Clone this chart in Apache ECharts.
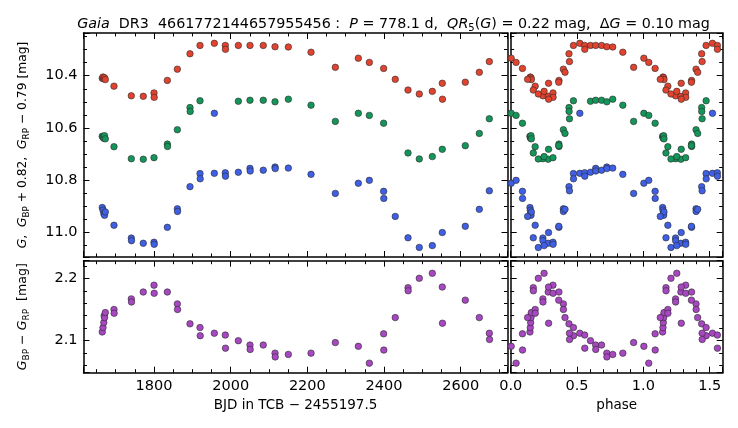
<!DOCTYPE html>
<html><head><meta charset="utf-8">
<script src="https://cdn.jsdelivr.net/npm/echarts@6/dist/echarts.min.js"></script>
<style>html,body{margin:0;padding:0;background:#fff}#c{width:738px;height:428px}</style>
</head><body><div id="c"></div>
<script>
// ---- data ----
const PERIOD = 778.1;      // days
const T0 = 1552.0;         // phase zero epoch (BJD-2455197.5)
const timeTicks = [1800, 2000, 2200, 2400, 2600];
const magTicks = [10.4, 10.6, 10.8, 11.0];
const colorTicks = [2.1, 2.2];
const phaseTicks = [0.0, 0.5, 1.0, 1.5];

// G_RP - 0.79 (red)
const rpData = [
 [1665,10.410],[1667,10.405],[1669,10.412],[1671,10.408],[1673,10.415],
 [1695.6,10.440],[1740.8,10.477],[1772,10.479],[1800,10.466],[1800.5,10.483],
 [1834.8,10.418],[1860.9,10.375],[1893.9,10.316],[1920,10.284],[1957.4,10.276],
 [1986,10.284],[1986.5,10.299],[2020,10.284],[2050.4,10.284],[2085,10.284],
 [2115.7,10.289],[2150.4,10.290],[2209.6,10.310],[2273,10.368],[2333,10.333],
 [2361.7,10.349],[2399,10.372],[2429.3,10.414],[2462.6,10.455],[2492,10.470],
 [2526,10.460],[2552,10.429],[2552.5,10.490],[2612,10.425],[2648.6,10.387],
 [2674.7,10.346]
];
// G (green)
const gData = [
 [1665,10.632],[1667,10.636],[1669,10.640],[1671,10.630],[1673,10.642],
 [1695.6,10.672],[1740.8,10.718],[1772,10.720],[1800,10.714],[1834.8,10.662],
 [1835.3,10.671],[1860.9,10.607],[1893.9,10.522],[1894.4,10.537],[1920,10.496],
 [2020,10.498],[2050.4,10.494],[2085,10.494],[2115.7,10.500],[2150.4,10.490],
 [2209.6,10.513],[2273,10.575],[2333,10.544],[2361.7,10.552],[2399,10.582],
 [2462.6,10.696],[2492,10.719],[2526,10.710],[2552,10.682],[2612,10.668],
 [2648.6,10.621],[2674.7,10.565]
];
// G_BP + 0.82 (blue)
const bpData = [
 [1665,10.905],[1667,10.915],[1669,10.928],[1671,10.935],[1673,10.922],
 [1695.6,10.973],[1740.8,11.022],[1741.3,11.032],[1772,11.042],[1800,11.038],
 [1800.5,11.046],[1834.8,10.981],[1860.9,10.910],[1861.4,10.920],[1893.9,10.825],
 [1920,10.775],[1920.5,10.795],[1957.4,10.774],[1957.4,10.544],[1986,10.772],
 [1986.5,10.785],[2020,10.770],[2050.4,10.755],[2050.9,10.765],[2085,10.762],
 [2115.7,10.750],[2116.2,10.756],[2150.4,10.754],[2209.6,10.778],[2273,10.851],
 [2333,10.812],[2361.7,10.801],[2399,10.843],[2399.5,10.870],[2429.3,10.939],
 [2462.6,11.021],[2492,11.058],[2526,11.051],[2552,11.001],[2612,10.977],
 [2648.6,10.912],[2674.7,10.841]
];
// G_BP - G_RP (purple)
const bprpData = [
 [1665,2.114],[1667,2.121],[1669,2.129],[1670,2.140],[1671,2.137],[1673,2.145],
 [1695.6,2.150],[1696,2.144],[1740.8,2.167],[1741.3,2.162],[1772,2.178],
 [1800,2.189],[1800.5,2.176],[1834.8,2.178],[1860.9,2.159],[1861.4,2.150],
 [1893.9,2.127],[1920,2.121],[1920.5,2.108],[1957.4,2.112],[1986,2.109],
 [1986.5,2.088],[2020,2.100],[2050.4,2.093],[2050.9,2.086],[2085,2.093],
 [2115.7,2.080],[2116.2,2.074],[2150.4,2.078],[2209.6,2.080],[2273,2.097],
 [2333,2.091],[2361.7,2.064],[2399,2.111],[2399.5,2.085],[2429.3,2.137],
 [2462.6,2.185],[2463,2.180],[2492,2.200],[2526,2.208],[2552,2.186],
 [2552.5,2.128],[2612,2.165],[2648.6,2.137],[2674.7,2.112],[2675.2,2.102]
];

// ---- layout / style ----
const FONT = 'DejaVu Sans';
const PHASE_MAX = 1.598;
const COL = {rp:'#e2432f', g:'#14965a', bp:'#3f5fe6', bprp:'#a847c2'};

function fold(data){
  const out = [];
  for (const [t, v] of data){
    let p = ((t - T0) / PERIOD) % 1; if (p < 0) p += 1;
    out.push([p, v]);
    if (p + 1 <= PHASE_MAX) out.push([p + 1, v]);
  }
  return out;
}
function fmt(list, dec){
  return function(v){
    for (const t of list){ if (Math.abs(v - t) < 1e-6) return dec ? t.toFixed(dec) : String(t); }
    return '';
  };
}
function mkAxis(gridIndex, position, min, max, opt){
  const a = {
    type:'value', gridIndex, position, min, max, scale:true,
    axisLine:{show:true, onZero:false, lineStyle:{color:'#000', width:1.5}},
    axisTick:{show:true, inside:true, length:6, lineStyle:{color:'#000', width:1}},
    minorTick:{show:true, inside:true, splitNumber:opt.minor, length:3.5, lineStyle:{color:'#000', width:1}},
    splitLine:{show:false}, minorSplitLine:{show:false},
    axisLabel:{show:!!opt.labels, margin:6, fontSize:14.5, fontFamily:FONT, color:'#000',
      formatter: opt.labels ? fmt(opt.labels, opt.dec) : undefined, showMinLabel:true, showMaxLabel:true},
    inverse: !!opt.inverse
  };
  if (opt.interval) a.interval = opt.interval;
  if (opt.split) a.splitNumber = opt.split;
  return a;
}

const T_MIN = 1616.1, T_MAX = 2722.1;
const M_MIN = 10.2364, M_MAX = 11.0946;
const C_MIN = 2.0487, C_MAX = 2.2282;

const xAxis = [
  mkAxis(0,'bottom',T_MIN,T_MAX,{minor:4, split:5}),
  mkAxis(0,'top',T_MIN,T_MAX,{minor:4, split:5}),
  mkAxis(1,'bottom',0,PHASE_MAX,{minor:5, interval:0.5}),
  mkAxis(1,'top',0,PHASE_MAX,{minor:5, interval:0.5}),
  mkAxis(2,'bottom',T_MIN,T_MAX,{minor:4, split:5, labels:timeTicks}),
  mkAxis(2,'top',T_MIN,T_MAX,{minor:4, split:5}),
  mkAxis(3,'bottom',0,PHASE_MAX,{minor:5, interval:0.5, labels:phaseTicks, dec:1}),
  mkAxis(3,'top',0,PHASE_MAX,{minor:5, interval:0.5})
];
const yAxis = [
  mkAxis(0,'left',M_MIN,M_MAX,{minor:4, split:5, inverse:true, labels:magTicks, dec:1}),
  mkAxis(0,'right',M_MIN,M_MAX,{minor:4, split:5, inverse:true}),
  mkAxis(1,'left',M_MIN,M_MAX,{minor:4, split:5, inverse:true}),
  mkAxis(1,'right',M_MIN,M_MAX,{minor:4, split:5, inverse:true}),
  mkAxis(2,'left',C_MIN,C_MAX,{minor:5, split:2, labels:colorTicks, dec:1}),
  mkAxis(2,'right',C_MIN,C_MAX,{minor:5, split:2}),
  mkAxis(3,'left',C_MIN,C_MAX,{minor:5, split:2}),
  mkAxis(3,'right',C_MIN,C_MAX,{minor:5, split:2})
];

function sc(data, xi, yi, color){
  return {type:'scatter', xAxisIndex:xi, yAxisIndex:yi, data, symbol:'circle', symbolSize:6.5,
    itemStyle:{color, borderColor:'#2a2a2a', borderWidth:0.6, opacity:1}, silent:true, clip:true};
}

const ital = {fontStyle:'italic', fontFamily:FONT};
function labelStyle(text, size, subSize, lh){
  return {
    text, fontSize:size, fontFamily:FONT, fill:'#000', lineHeight:lh,
    align:'center', verticalAlign:'middle', textAlign:'center', textVerticalAlign:'middle',
    rich:{
      i:Object.assign({fontSize:size, lineHeight:lh}, ital),
      s:{fontSize:subSize, fontFamily:FONT, lineHeight:subSize, verticalAlign:'bottom'}
    }
  };
}

const option = {
  animation:false,
  backgroundColor:'#fff',
  grid:[
    {left:83.5, top:33, width:424, height:224},
    {left:510.7, top:33, width:212, height:224},
    {left:83.5, top:260.7, width:424, height:112},
    {left:510.7, top:260.7, width:212, height:112}
  ],
  xAxis, yAxis,
  series:[
    sc(gData,0,0,COL.g), sc(bpData,0,0,COL.bp), sc(rpData,0,0,COL.rp),
    sc(fold(gData),2,2,COL.g), sc(fold(bpData),2,2,COL.bp), sc(fold(rpData),2,2,COL.rp),
    sc(bprpData,4,4,COL.bprp),
    sc(fold(bprpData),6,6,COL.bprp)
  ],
  graphic:[
    {type:'text', x:393.5, y:24, style:labelStyle(
      '{i|Gaia}  DR3  4661772144657955456 :  {i|P} = 778.1 d,  {i|QR}{s|5}({i|G}) = 0.22 mag,  Δ{i|G} = 0.10 mag',
      14.3, 10, 18)},
    {type:'text', x:23, y:145, rotation:Math.PI/2, style:labelStyle(
      '{i|G},  {i|G}{s|BP} + 0.82,  {i|G}{s|RP} − 0.79 [mag]', 12.3, 8.8, 16)},
    {type:'text', x:23, y:316.7, rotation:Math.PI/2, style:labelStyle(
      '{i|G}{s|BP} − {i|G}{s|RP}  [mag]', 12.6, 9, 16)},
    {type:'text', x:295.5, y:405, style:{
      text:'BJD in TCB − 2455197.5', fontSize:13.5, fontFamily:FONT, fill:'#000',
      align:'center', verticalAlign:'middle', textAlign:'center', textVerticalAlign:'middle'}},
    {type:'text', x:616.7, y:405, style:{
      text:'phase', fontSize:13.5, fontFamily:FONT, fill:'#000',
      align:'center', verticalAlign:'middle', textAlign:'center', textVerticalAlign:'middle'}}
  ]
};
const chart = echarts.init(document.getElementById('c'), null, {renderer:'canvas'});
chart.setOption(option);
</script></body></html>
